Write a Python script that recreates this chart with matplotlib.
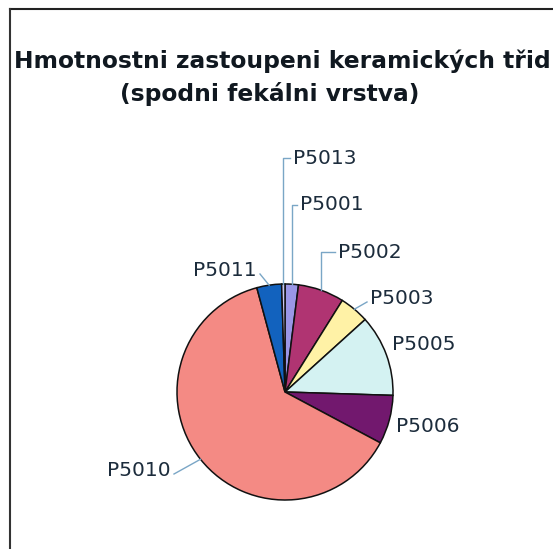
import numpy as np
import matplotlib.pyplot as plt

# slice data, clockwise from 12 o'clock
labels = ["P5001", "P5002", "P5003", "P5005", "P5006", "P5010", "P5011", "P5013"]
values = [2.0, 6.9, 4.4, 12.2, 7.3, 63.0, 3.7, 0.5]
colors = ["#9a96e6", "#b03472", "#fff2a6", "#d4f2f2", "#72186e", "#f48a84", "#1262be", "#c8c8f4"]

title_1 = "Hmotnostni zastoupeni keramických třid"
title_2 = "(spodni fekálni vrstva)"

W, H = 553, 549
fig = plt.figure(figsize=(W / 100, H / 100), dpi=100)
ax = fig.add_axes([0, 0, 1, 1])

cx, cy, r = 285, H - 392, 108

wedges, _ = ax.pie(values, colors=colors, startangle=90, counterclock=False,
                   center=(cx, cy), radius=r, frame=True,
                   wedgeprops=dict(edgecolor="#111111", linewidth=1.1))
ax.set_xlim(0, W)
ax.set_ylim(0, H)
ax.set_aspect("equal")
ax.axis("off")

# label placement in pixel coords: text x, text y, alignment, leader style
label_pos = {
    "P5013": (293, 158, "left", "elbow"),
    "P5001": (300, 205, "left", "elbow"),
    "P5002": (338, 252, "left", "elbow"),
    "P5003": (370, 298, "left", "line"),
    "P5005": (392, 345, "left", "none"),
    "P5006": (396, 426, "left", "none"),
    "P5010": (171, 470, "right", "line"),
    "P5011": (257, 270, "right", "line"),
}

leader = "#7aa6c6"
for w, lab in zip(wedges, labels):
    mid = np.deg2rad((w.theta1 + w.theta2) / 2)
    px = cx + r * np.cos(mid)
    py = cy + r * np.sin(mid)
    tx, ty, side, style = label_pos[lab]
    ty = H - ty
    ax.text(tx, ty, lab, ha=side, va="center", fontsize=14.5,
            family="DejaVu Sans", color="#1c2c3c")
    sx = tx - 3 if side == "left" else tx + 3
    if style == "elbow":
        ax.plot([sx, px, px], [ty, ty, py], color=leader, lw=1.0)
    elif style == "line":
        ax.plot([sx, px], [ty - 4, py], color=leader, lw=1.0)

ax.text(282, H - 61, title_1, ha="center", va="center", fontsize=16.8,
        fontweight="bold", family="DejaVu Sans", color="#101820")
ax.text(270, H - 94, title_2, ha="center", va="center", fontsize=16.8,
        fontweight="bold", family="DejaVu Sans", color="#101820")

# chart area border (top and left edges visible)
ax.plot([10, W], [H - 9, H - 9], color="#222222", lw=1.5)
ax.plot([10, 10], [H - 9, 0], color="#333333", lw=1.5)

fig.savefig("out.png", dpi=100)
